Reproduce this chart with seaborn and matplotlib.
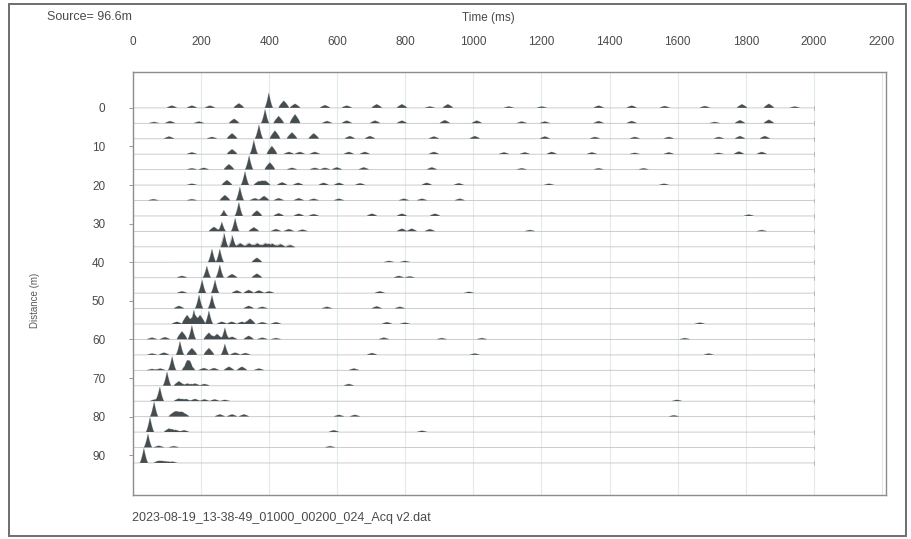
import numpy as np
import pandas as pd
import matplotlib
matplotlib.use("Agg")
import matplotlib.pyplot as plt
from matplotlib.patches import Rectangle
import seaborn as sns

# ---------------- data ----------------
offsets_m = list(range(0, 96, 4))          # 24 geophones, 0..92 m
record_end_ms = 2000

nan = float("nan")
arrival_right_ms = [399, 388, 370, 355, 341, 329, 314, 311, 300, 291, 255, 255,
                    241, 232, 223, 270, 270] + [nan] * 7
arrival_right_amp = [3.9, 3.6, 3.6, 3.6, 3.6, 3.5, 3.5, 3.5, 3.4, 3.0, 3.4, 3.3,
                     3.4, 3.4, 3.4, 3.0, 2.8] + [nan] * 7
arrival_left_ms = [nan] * 7 + [267, 261, 267, 232, 217, 203, 194, 179, 173, 138,
                               115, 100, 79, 62, 50, 44, 32]
arrival_left_amp = [nan] * 7 + [1.5, 2.4, 3.6, 3.4, 3.0, 3.4, 3.5, 3.6, 3.6, 3.5,
                                3.6, 3.6, 3.6, 3.8, 3.8, 3.5, 3.8]

event_ms = [
    [114, 173, 226, 311, 443, 476, 564, 628, 716, 790, 872, 925, 1104, 1201, 1368, 1465, 1562, 1680, 1789, 1868, 1944],
    [62, 109, 194, 297, 428, 476, 570, 628, 711, 790, 916, 1010, 1142, 1210, 1368, 1465, 1709, 1783, 1868],
    [106, 232, 291, 417, 467, 531, 637, 696, 884, 1004, 1210, 1357, 1474, 1574, 1721, 1783, 1856],
    [173, 291, 408, 458, 490, 534, 634, 681, 884, 1090, 1151, 1230, 1348, 1474, 1574, 1720, 1780, 1847],
    [173, 208, 282, 402, 467, 534, 564, 599, 678, 878, 1142, 1368, 1500],
    [173, 276, 370, 388, 438, 485, 560, 605, 667, 863, 957, 1222, 1560],
    [60, 173, 270, 358, 385, 428, 487, 531, 605, 796, 849, 960],
    [364, 428, 487, 531, 702, 790, 887, 1809],
    [238, 355, 420, 458, 498, 790, 819, 872, 1166, 1847],
    [314, 340, 364, 388, 408, 432, 460],
    [364, 752, 799],
    [144, 291, 364, 781, 813],
    [144, 305, 340, 370, 400, 725, 987],
    [135, 340, 380, 570, 716, 784],
    [129, 159, 197, 261, 290, 320, 344, 380, 420, 746, 799, 1665],
    [56, 94, 144, 223, 247, 291, 340, 380, 420, 737, 907, 1025, 1621],
    [56, 91, 173, 223, 300, 330, 702, 1004, 1691],
    [56, 80, 159, 167, 208, 238, 282, 320, 370, 649],
    [135, 160, 182, 210, 634],
    [65, 135, 155, 182, 210, 240, 270, 1598],
    [120, 135, 150, 255, 291, 326, 605, 652, 1589],
    [106, 125, 150, 590, 849],
    [76, 120, 579],
    [76, 94, 115],
]
event_amp = [
    [.5, .5, .5, 1.0, 1.6, .9, .6, .5, .8, .8, .3, .8, .3, .3, .5, .5, .4, .4, .8, .9, .3],
    [.3, .5, .4, 1.0, 1.6, 2.0, .5, .6, .6, .6, .7, .6, .4, .4, .5, .5, .3, .7, .8],
    [.5, .4, 1.2, 1.8, 1.4, 1.2, .6, .6, .5, .6, .5, .4, .4, .4, .4, .6, .6],
    [.4, 1.1, 1.8, .5, .5, .5, .5, .5, .5, .4, .4, .5, .4, .3, .4, .3, .6, .5],
    [.3, .4, 1.2, 1.6, .4, .4, .4, .5, .5, .5, .3, .3, .3],
    [.3, 1.1, .9, 1.0, .6, .5, .5, .5, .4, .5, .4, .3, .3],
    [.3, .3, 1.2, .5, 1.0, .5, .5, .4, .4, .4, .4, .4],
    [1.2, .6, .5, .4, .5, .5, .5, .3],
    [1.0, .9, .5, .5, .4, .6, .6, .5, .3, .3],
    [.9, .9, .9, .9, .8, .7, .5],
    [1.0, .3, .3],
    [.4, .8, .9, .4, .3],
    [.4, .6, .7, .6, .4, .4, .3],
    [.6, .6, .4, .4, .5, .4],
    [.5, 2.0, 2.0, .5, .5, .5, 1.2, .4, .4, .4, .3, .3],
    [.4, .5, 1.8, 1.5, 1.2, .6, .8, .4, .3, .4, .3, .3, .3],
    [.3, .5, 1.5, 1.5, .5, .4, .4, .3, .3],
    [.3, .4, 1.5, 1.3, .5, .5, .8, .8, .4, .4],
    [1.0, .5, .5, .4, .4],
    [.4, .6, .5, .5, .4, .4, .3, .3],
    [1.0, 1.0, .8, .5, .5, .5, .4, .4, .3],
    [.8, .5, .4, .4, .3],
    [.4, .3, .3],
    [.5, .4, .3],
]

x_ticks = list(range(0, 2201, 200))
y_ticks = list(range(0, 91, 10))
source_label = "Source= 96.6m"
file_label = "2023-08-19_13-38-49_01000_00200_024_Acq v2.dat"

# ---------------- rendering ----------------
sns.set_style("white")
plt.rcParams["font.family"] = ["Liberation Sans", "DejaVu Sans"]

W, H = 912, 539
fig = plt.figure(figsize=(W / 100, H / 100), dpi=100)
ax = fig.add_axes([133 / W, 1 - 495 / H, (886 - 133) / W, (495 - 72) / H])

t = np.arange(-8, record_end_ms + 1, 1.0)


def pulse(t0, amp, hw, p):
    x = np.abs(t - t0) / hw
    return amp * np.clip(1 - x, 0, None) ** p


rows = []
wiggles = []
for i, off in enumerate(offsets_m):
    w = np.zeros_like(t)
    for t0, a in ((arrival_right_ms[i], arrival_right_amp[i]),
                  (arrival_left_ms[i], arrival_left_amp[i])):
        if not np.isnan(t0):
            w += pulse(t0, a, 12.5, 1.5)
    for t0, a in zip(event_ms[i], event_amp[i]):
        w += pulse(t0, a * 1.15, 15.0, 0.75)
    y = off - w
    wiggles.append((off, y, w))
    rows.append(pd.DataFrame({"time": t, "y": y, "trace": i}))

df = pd.concat(rows, ignore_index=True)

for gx in x_ticks[1:]:
    ax.axvline(gx, color="#dfeceb", lw=0.8, zorder=0)

sns.lineplot(data=df, x="time", y="y", units="trace", estimator=None,
             sort=False, color="#c4c4c4", lw=0.6, ax=ax, legend=False, zorder=2)

for off, y, w in wiggles:
    ax.fill_between(t, off, y, where=w > 0.02, interpolate=True,
                    color="#454d50", lw=0, zorder=3)
    ax.plot([record_end_ms, record_end_ms], [off - 0.5, off + 0.5],
            color="#b0b0b0", lw=0.6, zorder=2)

ax.set_xlim(0, 2212)
ax.set_ylim(100.3, -9.3)
ax.set_xticks(x_ticks)
ax.set_yticks(y_ticks)
ax.xaxis.tick_top()
ax.set_xlabel("")
ax.set_ylabel("")
ax.tick_params(axis="x", length=0, pad=17, labelsize=8.5, labelcolor="#4a4a4a")
ax.tick_params(axis="y", length=3, width=0.6, color="#888888", direction="out",
               pad=17, labelsize=8.5, labelcolor="#4a4a4a", left=True)
for s in ax.spines.values():
    s.set_color("#8c8c8c")
    s.set_linewidth(1.0)
    s.set_visible(True)

fig.text(488 / W, 1 - 18 / H, "Time (ms)", ha="center", va="center",
         fontsize=8.5, color="#4a4a4a")
fig.text(47 / W, 1 - 17 / H, source_label, ha="left", va="center",
         fontsize=9, color="#4a4a4a")
fig.text(35 / W, 1 - 300 / H, "Distance (m)", ha="center", va="center",
         rotation=90, fontsize=7, color="#5a5a5a")
fig.text(132 / W, 1 - 518 / H, file_label, ha="left", va="center",
         fontsize=9, color="#4a4a4a")

fig.patches.append(Rectangle((9 / W, 1 - 536 / H), (906 - 9) / W, (536 - 4) / H,
                             transform=fig.transFigure, fill=False,
                             edgecolor="#6e6e6e", lw=1.4))

fig.savefig("out.png", dpi=100)
